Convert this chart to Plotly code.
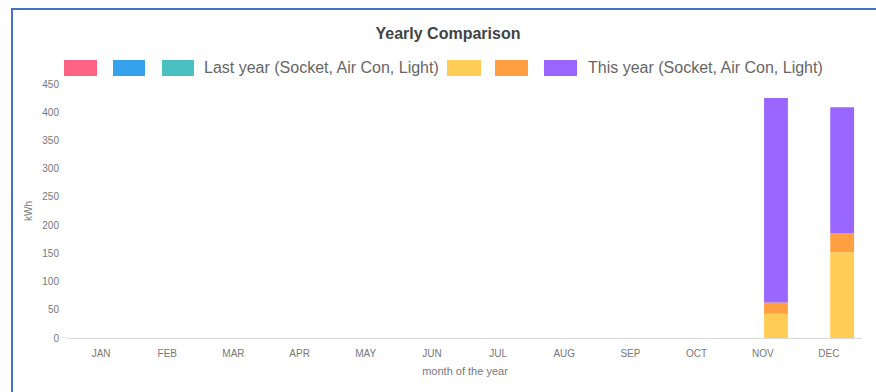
import plotly.graph_objects as go

months = ["JAN", "FEB", "MAR", "APR", "MAY", "JUN", "JUL", "AUG", "SEP", "OCT", "NOV", "DEC"]

last_socket = [0, 0, 0, 0, 0, 0, 0, 0, 0, 0, 0, 0]
last_aircon = [0, 0, 0, 0, 0, 0, 0, 0, 0, 0, 0, 0]
last_light = [0, 0, 0, 0, 0, 0, 0, 0, 0, 0, 0, 0]

this_socket = [0, 0, 0, 0, 0, 0, 0, 0, 0, 0, 43, 152]
this_aircon = [0, 0, 0, 0, 0, 0, 0, 0, 0, 0, 20, 34]
this_light = [0, 0, 0, 0, 0, 0, 0, 0, 0, 0, 362, 223]

y_ticks = [0, 50, 100, 150, 200, 250, 300, 350, 400, 450]

legend_last = "Last year (Socket, Air Con, Light)"
legend_this = "This year (Socket, Air Con, Light)"

colors_last = ["#ff6384", "#36a2eb", "#4bc0c0"]
colors_this = ["#ffcd56", "#ff9f40", "#9966ff"]

W, H = 876, 392
L, R, T, B = 68, 14, 84, 54
FONT = "Liberation Sans, Arial, sans-serif"


def px_x(p):
    return (p - L) / (W - L - R)


def px_y(p):
    return (H - B - p) / (H - T - B)


fig = go.Figure()
series = [
    (last_socket, colors_last[0], "last"),
    (last_aircon, colors_last[1], "last"),
    (last_light, colors_last[2], "last"),
    (this_socket, colors_this[0], "this"),
    (this_aircon, colors_this[1], "this"),
    (this_light, colors_this[2], "this"),
]
for vals, col, grp in series:
    fig.add_trace(go.Bar(x=months, y=vals, marker=dict(color=col, line=dict(width=0)),
                         offsetgroup=grp, showlegend=False))

shapes = []
annotations = []
# outer blue border (left and top)
shapes.append(dict(type="path", xref="paper", yref="paper",
                   path=f"M {px_x(12)},{px_y(400)} L {px_x(12)},{px_y(9)} L {px_x(880)},{px_y(9)}",
                   line=dict(color="#4472c4", width=2)))
# small tick extension of the baseline at zero
shapes.append(dict(type="line", xref="paper", yref="y", x0=px_x(62), x1=0, y0=0, y1=0,
                   line=dict(color="#d9d9d9", width=1)))

# custom legend
swatches = [(64, 97, colors_last[0]), (113, 145, colors_last[1]), (162, 194, colors_last[2]),
            (447, 481, colors_this[0]), (495, 528, colors_this[1]), (544, 577, colors_this[2])]
for x0, x1, col in swatches:
    shapes.append(dict(type="rect", xref="paper", yref="paper",
                       x0=px_x(x0), x1=px_x(x1), y0=px_y(76), y1=px_y(60),
                       fillcolor=col, line=dict(width=0)))
for xs, txt in [(202, legend_last), (586, legend_this)]:
    annotations.append(dict(xref="paper", yref="paper", x=px_x(xs), y=px_y(68),
                            xanchor="left", yanchor="middle", showarrow=False,
                            text=txt, font=dict(family=FONT, size=16, color="#666666")))

fig.update_layout(
    width=W, height=H,
    margin=dict(l=L, r=R, t=T, b=B, autoexpand=False),
    paper_bgcolor="white", plot_bgcolor="white",
    barmode="relative", bargap=0.2, bargroupgap=0.1,
    title=dict(text="<b>Yearly Comparison</b>", x=448 / W, xref="container", xanchor="center",
               y=1 - 33 / H, yref="container", yanchor="middle",
               font=dict(family=FONT, size=16, color="#444444")),
    shapes=shapes, annotations=annotations,
    showlegend=False,
    font=dict(family=FONT, color="#777777"),
)
fig.update_xaxes(showgrid=False, showline=True, linecolor="#d9d9d9", linewidth=1,
                 ticks="outside", ticklen=6, tickcolor="rgba(0,0,0,0)",
                 tickfont=dict(family=FONT, size=10, color="#777777"),
                 title=dict(text="month of the year", standoff=9,
                            font=dict(family=FONT, size=11, color="#777777")),
                 automargin=False)
fig.update_yaxes(range=[0, 450], tickvals=y_ticks, showgrid=False, zeroline=False,
                 showline=False, ticks="outside", ticklen=6, tickcolor="rgba(0,0,0,0)",
                 tickfont=dict(family=FONT, size=10, color="#777777"),
                 title=dict(text="kWh", standoff=7,
                            font=dict(family=FONT, size=10, color="#777777")),
                 automargin=False)

fig.write_html("out.html")
